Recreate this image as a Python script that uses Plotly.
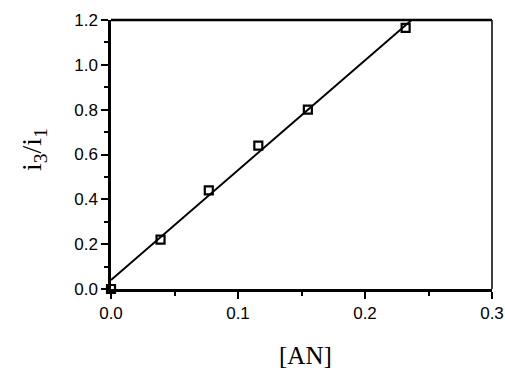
import plotly.graph_objects as go

# Measured intensity ratio vs. acrylonitrile concentration
an_conc = [0.0, 0.039, 0.077, 0.116, 0.155, 0.232]
i3_i1 = [0.0, 0.22, 0.44, 0.64, 0.80, 1.165]

# Least-squares line parameters
fit_intercept = 0.04
fit_slope = 4.9
fit_x_range = [0.0, 0.2367]

fit_y = [fit_intercept + fit_slope * x for x in fit_x_range]

fig = go.Figure()
fig.add_trace(go.Scatter(
    x=fit_x_range, y=fit_y, mode="lines",
    line=dict(color="black", width=2), showlegend=False, cliponaxis=False,
))
fig.add_trace(go.Scatter(
    x=an_conc, y=i3_i1, mode="markers",
    marker=dict(symbol="square-open", size=8, color="black", line=dict(width=2.2)),
    showlegend=False, cliponaxis=False,
))

tick_font = dict(family="Liberation Sans, Arial, sans-serif", size=17, color="black")

fig.update_layout(
    width=505, height=371,
    margin=dict(l=111, r=13, t=20, b=82),
    paper_bgcolor="white", plot_bgcolor="white",
    xaxis=dict(
        range=[0, 0.3], tickvals=[0, 0.1, 0.2, 0.3],
        ticktext=["0.0", "0.1", "0.2", "0.3"],
        showgrid=False, zeroline=False, automargin=False,
        showline=True, linewidth=2.5, linecolor="black",
        ticks="outside", ticklen=7, tickwidth=2, tickcolor="black",
        minor=dict(ticks="outside", ticklen=4, tickwidth=1.5, tickcolor="black", dtick=0.05),
        tickfont=tick_font,
    ),
    yaxis=dict(
        range=[0, 1.2], tickvals=[0, 0.2, 0.4, 0.6, 0.8, 1.0, 1.2],
        ticktext=["0.0", "0.2", "0.4", "0.6", "0.8", "1.0", "1.2"],
        showgrid=False, zeroline=False, automargin=False,
        showline=True, linewidth=2.5, linecolor="black",
        ticks="outside", ticklen=7, tickwidth=2, tickcolor="black",
        minor=dict(ticks="outside", ticklen=4, tickwidth=1.5, tickcolor="black", dtick=0.1),
        tickfont=tick_font,
    ),
    shapes=[
        dict(type="line", xref="paper", yref="paper", x0=0, x1=1, y0=1, y1=1,
             line=dict(color="black", width=2.5)),
        dict(type="line", xref="paper", yref="paper", x0=1, x1=1, y0=0, y1=1,
             line=dict(color="black", width=1.5)),
    ],
    annotations=[
        dict(text="i<sub>3</sub>/i<sub>1</sub>", xref="paper", yref="paper",
             x=-0.205, y=0.52, xanchor="center", yanchor="middle", textangle=-90,
             showarrow=False,
             font=dict(family="Liberation Serif, Times New Roman, serif", size=28, color="black")),
        dict(text="[AN]", xref="paper", yref="paper",
             x=0.51, y=-0.305, xanchor="center", yanchor="bottom",
             showarrow=False,
             font=dict(family="Liberation Serif, Times New Roman, serif", size=25, color="black")),
    ],
)

fig.write_html("out.html")
